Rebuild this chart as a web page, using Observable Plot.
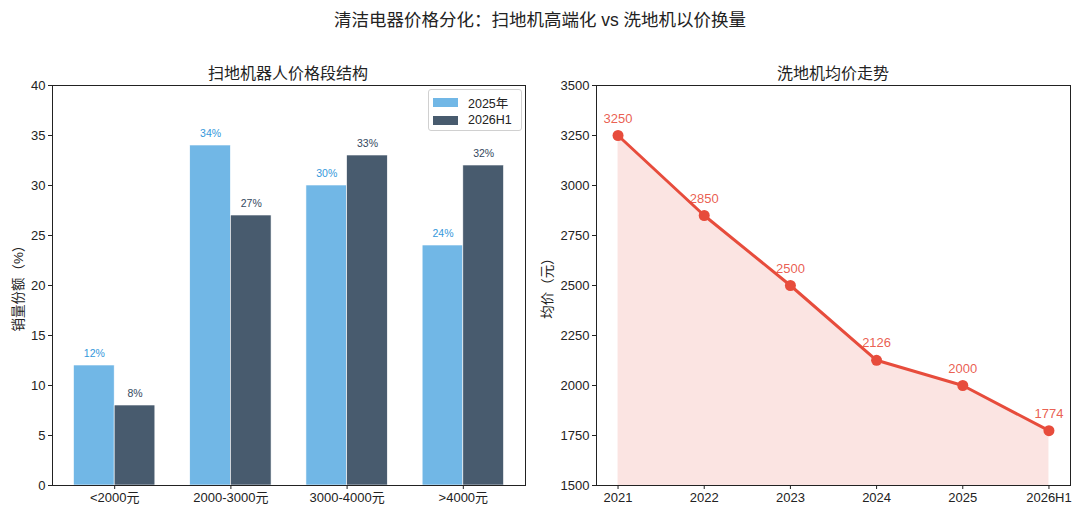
<!DOCTYPE html>
<html><head><meta charset="utf-8">
<script src="https://cdn.jsdelivr.net/npm/d3@7"></script>
<script src="https://cdn.jsdelivr.net/npm/@observablehq/plot@0.6"></script>
<style>
body{margin:0;background:#fff;font-family:"Liberation Sans","Noto Sans CJK SC",sans-serif;color:#222}
#root{position:relative;width:1080px;height:515px;overflow:hidden;background:#fff}
.abs{position:absolute;white-space:nowrap}
</style></head><body><div id="root"></div>
<script>
const categories = ["<2000元", "2000-3000元", "3000-4000元", ">4000元"];
const share2025 = [12, 34, 30, 24];
const share2026H1 = [8, 27, 33, 32];
const seriesNames = ["2025年", "2026H1"];
const years = ["2021", "2022", "2023", "2024", "2025", "2026H1"];
const avgPrice = [3250, 2850, 2500, 2126, 2000, 1774];
const leftTicks = [0, 5, 10, 15, 20, 25, 30, 35, 40];
const rightTicks = [1500, 1750, 2000, 2250, 2500, 2750, 3000, 3250, 3500];

const barColors = ["#71b7e6", "#485b6e"];
const barLabelColors = ["#3498db", "#34495e"];
const red = "#e74c3c";
const FONT = '"Liberation Sans","Noto Sans CJK SC",sans-serif';
const root = document.getElementById("root");

function addText(txt, x, y, size, extra = "") {
  const d = document.createElement("div");
  d.className = "abs";
  d.textContent = txt;
  d.style.cssText += `left:${x}px;top:${y}px;font-size:${size}px;transform:translate(-50%,-50%) ${extra};`;
  root.appendChild(d);
  return d;
}

// Titles
addText("清洁电器价格分化：扫地机高端化 vs 洗地机以价换量", 540, 18, 17.5);
addText("扫地机器人价格段结构", 288, 72, 16);
addText("洗地机均价走势", 833, 72, 16);
addText("销量份额（%）", 17, 285, 13.5, "rotate(-90deg)");
addText("均价（元）", 546, 285, 13.5, "rotate(-90deg)");

// ---- Left: grouped bars ----
const barW = 0.35;
const barRows = [];
categories.forEach((c, i) => {
  [share2025, share2026H1].forEach((arr, s) => {
    const x1 = s === 0 ? i - barW : i;
    barRows.push({i, s, value: arr[i], x1, x2: x1 + barW});
  });
});

const left = Plot.plot({
  width: 540, height: 455,
  marginTop: 25, marginBottom: 30, marginLeft: 52, marginRight: 15,
  style: {fontFamily: FONT, fontSize: "13px", color: "#222", background: "transparent"},
  x: {type: "linear", domain: [-0.535, categories.length - 1 + 0.535]},
  y: {domain: [leftTicks[0], leftTicks[leftTicks.length - 1]]},
  marks: [
    Plot.rectY(barRows, {x1: "x1", x2: "x2", y: "value", fill: d => barColors[d.s], stroke: "white", strokeWidth: 0.6}),
    Plot.text(barRows, {x: d => (d.x1 + d.x2) / 2, y: "value", text: d => d.value + "%", dy: -9, lineAnchor: "bottom",
      fill: d => barLabelColors[d.s], fontSize: 10.5}),
    Plot.axisY({ticks: leftTicks, tickSize: 4, tickPadding: 3, label: null, fontSize: 13, tickFormat: d => String(d)}),
    Plot.axisX({ticks: categories.map((c, i) => i), tickFormat: i => categories[i], tickSize: 4, tickPadding: 3, label: null, fontSize: 13}),
    Plot.frame({stroke: "#222", strokeWidth: 1})
  ]
});
left.style.position = "absolute";
left.style.left = "0px";
left.style.top = "60px";
root.appendChild(left);

// Legend
const leg = document.createElement("div");
leg.className = "abs";
leg.style.cssText += "left:428px;top:89px;width:92px;height:40px;border:1px solid #d0d0d0;border-radius:3px;background:rgba(255,255,255,0.85);";
seriesNames.forEach((n, s) => {
  const row = document.createElement("div");
  row.style.cssText = `position:absolute;left:4px;top:${4 + s * 18}px;height:16px;display:flex;align-items:center;font-size:12.5px;`;
  const sw = document.createElement("span");
  sw.style.cssText = `display:inline-block;width:25px;height:9px;background:${barColors[s]};margin-right:10px;`;
  row.appendChild(sw);
  row.appendChild(document.createTextNode(n));
  leg.appendChild(row);
});
root.appendChild(leg);

// ---- Right: line with area ----
const lineRows = years.map((y, i) => ({i, value: avgPrice[i]}));
const right = Plot.plot({
  width: 540, height: 455,
  marginTop: 25, marginBottom: 30, marginLeft: 56, marginRight: 10,
  style: {fontFamily: FONT, fontSize: "13px", color: "#222", background: "transparent"},
  x: {type: "linear", domain: [-0.25, years.length - 1 + 0.25]},
  y: {domain: [rightTicks[0], rightTicks[rightTicks.length - 1]]},
  marks: [
    Plot.areaY(lineRows, {x: "i", y1: () => rightTicks[0], y2: "value", fill: red, fillOpacity: 0.15}),
    Plot.lineY(lineRows, {x: "i", y: "value", stroke: red, strokeWidth: 3}),
    Plot.dot(lineRows, {x: "i", y: "value", r: 5.5, fill: red}),
    Plot.text(lineRows, {x: "i", y: "value", text: d => String(d.value), dy: -13, lineAnchor: "bottom", fill: red, fillOpacity: 0.9, fontSize: 13}),
    Plot.axisY({ticks: rightTicks, tickSize: 4, tickPadding: 3, label: null, fontSize: 13, tickFormat: d => String(d)}),
    Plot.axisX({ticks: years.map((y, i) => i), tickFormat: i => years[i], tickSize: 4, tickPadding: 3, label: null, fontSize: 13}),
    Plot.frame({stroke: "#222", strokeWidth: 1})
  ]
});
right.style.position = "absolute";
right.style.left = "540px";
right.style.top = "60px";
root.appendChild(right);
</script>
</body></html>
